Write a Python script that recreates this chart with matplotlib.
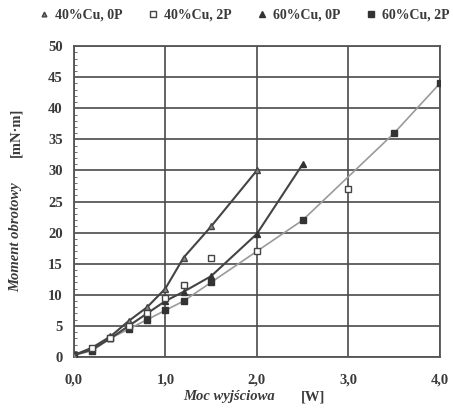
import matplotlib
matplotlib.use("Agg")
import matplotlib.pyplot as plt
from matplotlib.ticker import FixedLocator, MultipleLocator

plt.rcParams['font.family'] = ['Liberation Serif', 'DejaVu Serif']

# 40%Cu, 0P - steepest curve
x_40_0p = [0, 0.2, 0.4, 0.6, 0.8, 1.0, 1.2, 1.5, 2.0]
y_40_0p = [0.3, 1.5, 3.3, 5.8, 8.0, 11.0, 16.0, 21.0, 30.0]

# 40%Cu, 2P - open squares
x_40_2p = [0.2, 0.4, 0.6, 0.8, 1.0, 1.2, 1.5, 2.0, 3.0]
y_40_2p = [1.5, 3.0, 5.0, 7.0, 9.5, 11.5, 16.0, 17.0, 27.0]

# 60%Cu, 0P
x_60_0p = [0, 0.2, 0.4, 0.6, 0.8, 1.0, 1.2, 1.5, 2.0, 2.5]
y_60_0p = [0.3, 1.2, 3.0, 5.0, 7.0, 9.0, 10.5, 13.0, 19.8, 31.0]

# 60%Cu, 2P - light curve
x_60_2p = [0, 0.2, 0.4, 0.6, 0.8, 1.0, 1.2, 1.5, 2.5, 3.5, 4.0]
y_60_2p = [0.3, 1.0, 3.0, 4.5, 6.0, 7.5, 9.0, 12.0, 22.0, 36.0, 44.0]

x_ticks = [0, 1, 2, 3, 4]
x_labels = ["0,0", "1,0", "2,0", "3,0", "4,0"]
y_ticks = [0, 5, 10, 15, 20, 25, 30, 35, 40, 45, 50]

dark = "#3a3a3a"

fig = plt.figure(figsize=(4.53, 4.08), dpi=100)
ax = fig.add_axes([0.163, 0.125, 0.808, 0.762])

ax.plot(x_60_2p, y_60_2p, color="#9a9a9a", lw=1.2, marker="s", ms=5,
        mfc="#333333", mec="#333333", label="60%Cu, 2P", zorder=3)
ax.plot(x_60_0p, y_60_0p, color="#444444", lw=1.5, marker="^", ms=5,
        mfc="#333333", mec="#333333", label="60%Cu, 0P", zorder=4)
ax.plot(x_40_0p, y_40_0p, color="#444444", lw=1.5, marker="^", ms=4,
        mfc="#888888", mec="#444444", label="40%Cu, 0P", zorder=4)
ax.plot(x_40_2p, y_40_2p, ls="none", marker="s", ms=5,
        mfc="white", mec="#444444", mew=1.0, label="40%Cu, 2P", zorder=5)

ax.set_xlim(0, 4)
ax.set_ylim(0, 50)
ax.xaxis.set_major_locator(FixedLocator(x_ticks))
ax.set_xticklabels(x_labels)
ax.yaxis.set_major_locator(FixedLocator(y_ticks))
ax.yaxis.set_minor_locator(MultipleLocator(1))
ax.grid(True, which="major", color="#4a4a4a", lw=1.2)
ax.set_axisbelow(True)
for s in ax.spines.values():
    s.set_color("#555555")
    s.set_linewidth(1.3)
ax.tick_params(axis="both", which="major", length=0, labelsize=10.5,
               colors=dark, pad=8)
ax.tick_params(axis="y", which="minor", length=2, color="#555555",
               direction="in")
ax.tick_params(axis="x", pad=12)
for lab in ax.get_xticklabels() + ax.get_yticklabels():
    lab.set_fontweight("bold")

# axis labels
fig.text(0.505, 0.012, "Moc wyjściowa", fontsize=10.5, style="italic",
         fontweight="bold", color=dark, ha="center", va="bottom")
fig.text(0.69, 0.012, "[W]", fontsize=10.5, fontweight="bold", color=dark,
         ha="center", va="bottom")
fig.text(0.035, 0.42, "Moment obrotowy", fontsize=10.5, style="italic",
         fontweight="bold", color=dark, rotation=90, ha="center", va="center")
fig.text(0.035, 0.675, "[mN·m]", fontsize=10.5, fontweight="bold",
         color=dark, rotation=90, ha="center", va="center")

h, l = ax.get_legend_handles_labels()
order = [2, 3, 1, 0]
leg = fig.legend([h[i] for i in order], [l[i] for i in order], ncol=4,
                 loc="center", bbox_to_anchor=(0.54, 0.962), frameon=False,
                 fontsize=10, handlelength=0.6, handletextpad=0.5,
                 columnspacing=1.9, markerscale=0.85)
for line in leg.get_lines():
    line.set_linestyle("none")
for t in leg.get_texts():
    t.set_color(dark)
    t.set_fontweight("bold")

fig.savefig("out.png", dpi=100, facecolor="white")
